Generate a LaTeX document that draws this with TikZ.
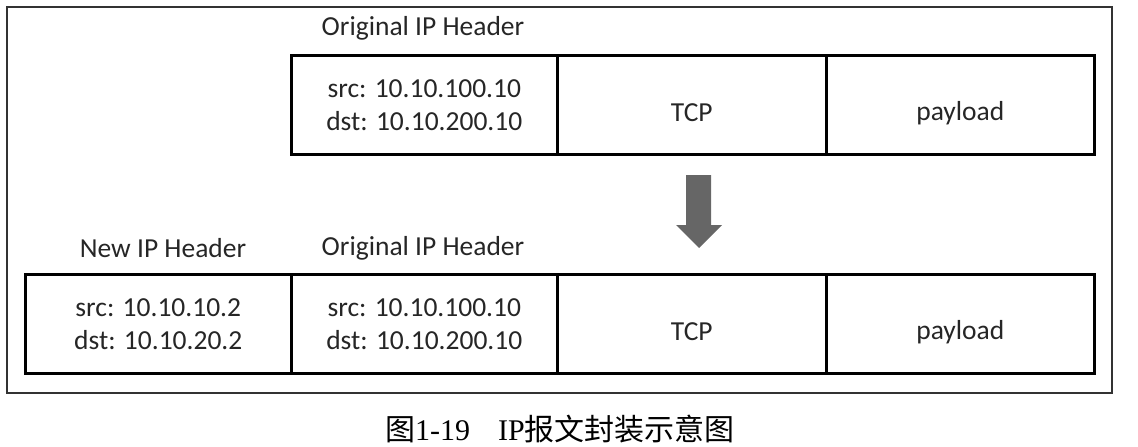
\documentclass[tikz,border=0pt]{standalone}
\usepackage{fontspec}
\setmainfont{Carlito}
\newfontfamily\capfont{Liberation Serif}
\newfontfamily\cjk{Noto Sans CJK SC}
\begin{document}
\begin{tikzpicture}[x=1pt,y=-1pt,
  cell/.style={draw=black,line width=2.6pt,minimum width=266pt,minimum height=99pt,inner sep=0pt,anchor=north west,font=\fontsize{27.5}{33}\selectfont,text=black!85,align=center},
  lbl/.style={font=\fontsize{27.5}{33}\selectfont,text=black!85,inner sep=0pt},
  frame/.style={draw=black!80,line width=1.3pt}]
\useasboundingbox (0,0) rectangle (1138,447);
\draw[frame] (7,7) rectangle (1112,393);
% top row
\node[cell] (h1) at (290,54) {src: 10.10.100.10\\dst: 10.10.200.10};
\node[cell,minimum width=269pt,label={[lbl,yshift=-8pt]center:TCP}] (tcp1) at (556,54) {};
\node[cell,minimum width=268pt,label={[lbl,yshift=-8pt]center:payload}] (pay1) at (825,54) {};
\node[lbl] (l1) at (423,28) {Original IP Header};
% arrow
\fill[black!60] (686,175) -- (711,175) -- (711,225) -- (722,225) -- (699,248) -- (676,225) -- (686,225) -- cycle;
% bottom row
\node[cell] (nh) at (24,273) {src: 10.10.10.2\\dst: 10.10.20.2};
\node[cell] (h2) at (290,273) {src: 10.10.100.10\\dst: 10.10.200.10};
\node[cell,minimum width=269pt,label={[lbl,yshift=-8pt]center:TCP}] (tcp2) at (556,273) {};
\node[cell,minimum width=268pt,label={[lbl,yshift=-8pt]center:payload}] (pay2) at (825,273) {};
\node[lbl] (l2) at (163,248) {New IP Header};
\node[lbl] (l3) at (423,248) {Original IP Header};
% caption
\node[inner sep=0pt,font=\fontsize{30}{34}\selectfont] (cap) at (560,429) {{\cjk 图}{\capfont 1-19\hspace{28pt}IP}{\cjk 报文封装示意图}};
\end{tikzpicture}
\end{document}
